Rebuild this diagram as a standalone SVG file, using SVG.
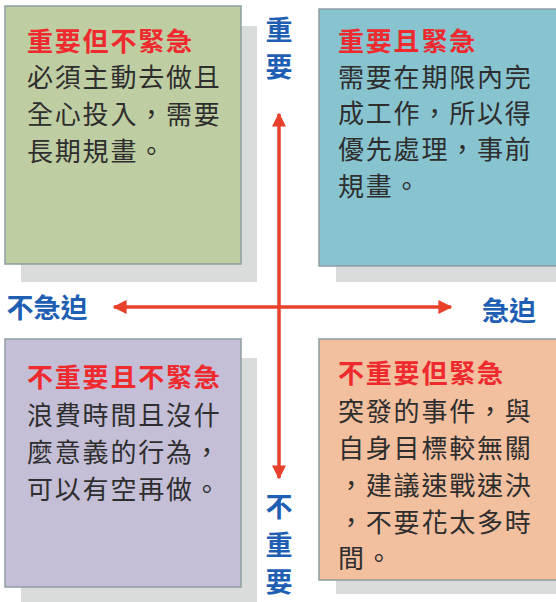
<svg xmlns="http://www.w3.org/2000/svg" width="556" height="602" viewBox="0 0 556 602">
<style>
.shadow{fill:#dadcdc}
.box{stroke:#8d9ea2;stroke-width:1.5}
.title{font-family:"Noto Sans CJK TC","Noto Sans CJK SC",sans-serif;font-size:26px;font-weight:bold;fill:#ee2a2e;letter-spacing:1.8px}
.body{font-family:"Noto Sans CJK TC","Noto Sans CJK SC",sans-serif;font-size:26px;fill:#2e2e2e;letter-spacing:1.8px}
.axis{font-family:"Noto Sans CJK TC","Noto Sans CJK SC",sans-serif;font-size:27px;font-weight:bold;fill:#1f5fb3;stroke:#fff;stroke-width:3;paint-order:stroke;text-anchor:middle}
.line{stroke:#e8412b;stroke-width:3.5;fill:none}
</style>
<defs>
<marker id="ah" viewBox="0 0 10 10" refX="9" refY="5" markerWidth="4" markerHeight="4" orient="auto-start-reverse" markerUnits="strokeWidth">
<path d="M0,0 L10,5 L0,10 z" fill="#e8412b"/>
</marker>
</defs>
<rect width="556" height="602" fill="#fff"/>
<g id="q-important-not-urgent">
<rect class="shadow" x="21" y="26" width="236" height="256"/>
<rect class="box" x="5" y="6" width="236" height="258" fill="#bfcda3"/>
<text class="title" x="27" y="51">重要但不緊急</text>
<text class="body" x="27" y="87">必須主動去做且</text>
<text class="body" x="27" y="124">全心投入，需要</text>
<text class="body" x="27" y="161">長期規畫。</text>
</g>
<g id="q-important-urgent">
<rect class="shadow" x="336" y="28" width="236" height="254"/>
<rect class="box" x="319" y="9" width="240" height="257" fill="#88c3d0"/>
<text class="title" x="338" y="51">重要且緊急</text>
<text class="body" x="338" y="87">需要在期限內完</text>
<text class="body" x="338" y="123">成工作，所以得</text>
<text class="body" x="338" y="159">優先處理，事前</text>
<text class="body" x="338" y="196">規畫。</text>
</g>
<g id="q-not-important-not-urgent">
<rect class="shadow" x="21" y="358" width="236" height="248"/>
<rect class="box" x="5" y="339" width="236" height="248" fill="#c5bed7"/>
<text class="title" x="27" y="387">不重要且不緊急</text>
<text class="body" x="27" y="425">浪費時間且沒什</text>
<text class="body" x="27" y="462">麼意義的行為，</text>
<text class="body" x="27" y="499">可以有空再做。</text>
</g>
<g id="q-not-important-urgent">
<rect class="shadow" x="336" y="358" width="236" height="236"/>
<rect class="box" x="319" y="339" width="240" height="241" fill="#f2bf9f"/>
<text class="title" x="338" y="383">不重要但緊急</text>
<text class="body" x="338" y="421">突發的事件，與</text>
<text class="body" x="338" y="458">自身目標較無關</text>
<text class="body" x="338" y="495">，建議速戰速決</text>
<text class="body" x="338" y="532">，不要花太多時</text>
<text class="body" x="338" y="568">間。</text>
</g>
<g id="connectors">
<line class="line" x1="279" y1="307" x2="279" y2="114" marker-end="url(#ah)"/>
<line class="line" x1="279" y1="307" x2="279" y2="478" marker-end="url(#ah)"/>
<line class="line" x1="279" y1="307" x2="114" y2="307" marker-end="url(#ah)"/>
<line class="line" x1="279" y1="307" x2="451" y2="307" marker-end="url(#ah)"/>
</g>
<g id="labels">
<text class="axis" x="279" y="40">重</text>
<text class="axis" x="279" y="77">要</text>
<text class="axis" x="47" y="318">不急迫</text>
<text class="axis" x="509" y="321">急迫</text>
<text class="axis" x="279" y="517">不</text>
<text class="axis" x="279" y="555">重</text>
<text class="axis" x="279" y="592">要</text>
</g>
</svg>
